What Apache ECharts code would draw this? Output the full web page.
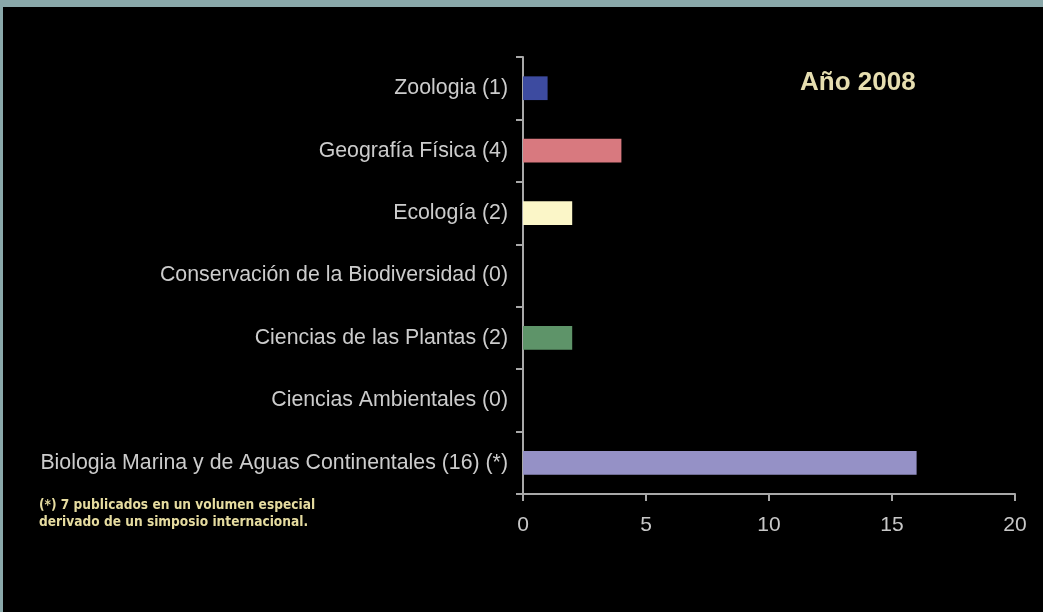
<!DOCTYPE html>
<html><head><meta charset="utf-8">
<script src="https://cdn.jsdelivr.net/npm/echarts@6/dist/echarts.min.js"></script>
<style>
html,body{margin:0;padding:0;background:#8aa8aa;width:1043px;height:612px;overflow:hidden;}
#c{position:absolute;left:3px;top:7px;width:1040px;height:605px;background:#000;}
</style></head><body><div id="c"></div>
<script>
const categories = [
  "Zoologia (1)",
  "Geografía Física (4)",
  "Ecología (2)",
  "Conservación de la Biodiversidad (0)",
  "Ciencias de las Plantas (2)",
  "Ciencias Ambientales (0)",
  "Biologia Marina y de Aguas Continentales (16) (*)"
];
const values = [1, 4, 2, 0, 2, 0, 16];
const barColors = ["#3d4ba0", "#d8797f", "#fbf6c8", "#888888", "#5e9469", "#888888", "#9591c6"];
const xTicks = { min: 0, max: 20, interval: 5 };
const titleText = "Año 2008";
const noteLines = ["(*) 7 publicados en un volumen especial", "derivado de un simposio internacional."];

const chart = echarts.init(document.getElementById('c'), null, {renderer: 'canvas'});
chart.setOption({
  backgroundColor: '#000',
  animation: false,
  title: {
    text: titleText, left: 797, top: 63, padding: 0,
    textStyle: {color: '#e6deb0', fontSize: 26, fontWeight: 'bold', fontFamily: 'Liberation Sans'}
  },
  grid: {left: 520, right: 28, top: 50, bottom: 118, containLabel: false},
  xAxis: {
    type: 'value', min: xTicks.min, max: xTicks.max, interval: xTicks.interval,
    axisLine: {show: true, lineStyle: {color: '#a8a8a8', width: 2}},
    axisTick: {show: true, length: 7, lineStyle: {color: '#a8a8a8', width: 2}},
    splitLine: {show: false},
    axisLabel: {color: '#c8c8c8', fontSize: 21, fontFamily: 'Liberation Sans', margin: 21}
  },
  yAxis: {
    type: 'category', data: categories, inverse: true,
    axisLine: {show: true, lineStyle: {color: '#a8a8a8', width: 2}},
    axisTick: {show: true, length: 7, lineStyle: {color: '#a8a8a8', width: 2}},
    axisLabel: {color: '#cccccc', fontSize: 21.3, fontFamily: 'Liberation Sans', margin: 15, padding: [5, 0, 0, 0]}
  },
  series: [{
    type: 'bar', barWidth: '38%',
    data: values.map((v, i) => ({value: v, itemStyle: {color: barColors[i]}}))
  }],
  graphic: noteLines.map((t, i) => ({
    type: 'text', left: 36, top: 491 + i * 17,
    style: {text: t, fill: '#e6dca0', font: 'bold 13.6px "DejaVu Sans Condensed", "DejaVu Sans", sans-serif'}
  }))
});
</script></body></html>
